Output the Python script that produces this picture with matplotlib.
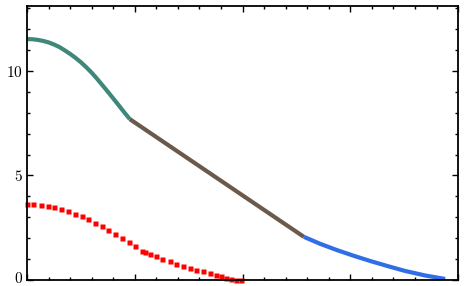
import matplotlib.pyplot as plt
import matplotlib.transforms as mtransforms
from matplotlib.ticker import MultipleLocator

plt.rcParams['mathtext.fontset'] = 'cm'

# teal segment
teal_x = [0, 0.05, 0.1, 0.15, 0.2, 0.25, 0.3, 0.35, 0.4, 0.45, 0.5, 0.55,
          0.6, 0.65, 0.7, 0.75, 0.8, 0.85, 0.9, 0.954]
teal_y = [11.52, 11.51, 11.48, 11.43, 11.36, 11.26, 11.14, 10.98, 10.81, 10.62,
          10.41, 10.17, 9.91, 9.62, 9.31, 9.00, 8.68, 8.36, 8.03, 7.69]
# brown straight segment
brown_x = [0.954, 2.57]
brown_y = [7.69, 2.06]
# blue segment
blue_x = [2.57, 2.72, 2.87, 3.03, 3.19, 3.35, 3.51, 3.70, 3.88]
blue_y = [2.06, 1.73, 1.44, 1.16, 0.90, 0.66, 0.43, 0.21, 0.05]
# red squares
red_x = [0.00, 0.058, 0.127, 0.192, 0.253, 0.315, 0.382, 0.444, 0.506, 0.568,
         0.63, 0.692, 0.753, 0.815, 0.882, 0.944, 1.006, 1.068, 1.099, 1.139,
         1.194, 1.256, 1.324, 1.386, 1.447, 1.509, 1.571, 1.632, 1.694, 1.756,
         1.803, 1.849, 1.895, 1.942, 1.988]
red_y = [3.64, 3.62, 3.59, 3.54, 3.48, 3.40, 3.29, 3.17, 3.06, 2.90,
         2.74, 2.58, 2.39, 2.22, 2.02, 1.82, 1.63, 1.40, 1.33, 1.24,
         1.13, 1.02, 0.89, 0.78, 0.68, 0.59, 0.49, 0.42, 0.33, 0.24,
         0.18, 0.11, 0.06, 0.01, 0.0]

fig = plt.figure(figsize=(4.66, 2.86), dpi=100)
ax = fig.add_axes([0.058, 0.021, 0.925, 0.958])

ax.plot(teal_x, teal_y, color='#3f877b', lw=3, solid_capstyle='butt')
ax.plot(brown_x, brown_y, color='#6b5a4b', lw=3, solid_capstyle='butt')
ax.plot(blue_x, blue_y, color='#2f6ee6', lw=3, solid_capstyle='butt')
ax.plot(red_x, red_y, 's', color='#ff0000', ms=3.6, mec='none', clip_on=False)

ax.set_xlim(0, 4)
ax.set_ylim(0, 13.1)
ax.xaxis.set_major_locator(MultipleLocator(1))
ax.xaxis.set_minor_locator(MultipleLocator(0.2))
ax.yaxis.set_minor_locator(MultipleLocator(1))
ax.set_xticklabels([])
ax.set_yticks([0, 5, 10])
ax.set_yticklabels(['$0$', '$5$', '$10$'], fontsize=11)

ax.tick_params(which='both', direction='in', top=True, right=True, width=1)
ax.tick_params(which='major', length=4, pad=3)
ax.tick_params(which='minor', length=2.5)
for spine in ax.spines.values():
    spine.set_linewidth(1.3)

# nudge the "0" label up so it stays inside the figure
lab0 = ax.get_yticklabels()[0]
lab0.set_transform(lab0.get_transform() +
                   mtransforms.ScaledTranslation(0, 2 / 72, fig.dpi_scale_trans))

fig.savefig('out.png', dpi=100)
